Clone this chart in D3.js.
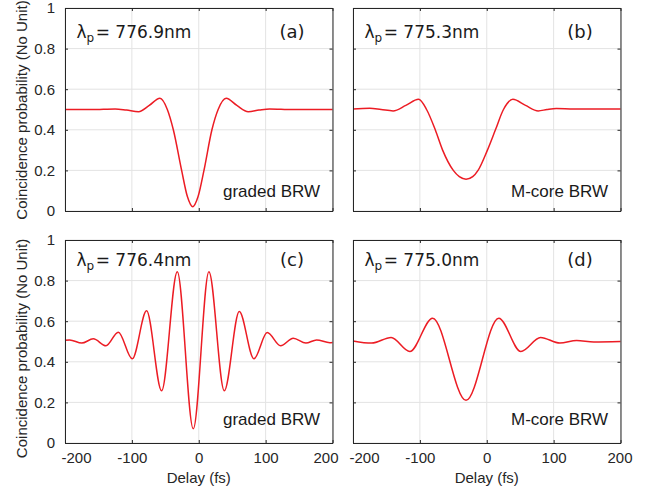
<!DOCTYPE html>
<html lang="en">
<head>
<meta charset="utf-8">
<title>Coincidence probability vs delay</title>
<script src="https://cdnjs.cloudflare.com/ajax/libs/d3/7.8.5/d3.min.js"></script>
<style>
	body { margin: 0; background: #fff; }
	svg { display: block; }
	.tick text { font-family: "Liberation Sans", Arial, sans-serif; font-size: 15px; fill: #262626; }
	.axis path, .axis line { stroke: #262626; }
	.note { font-family: "DejaVu Sans", sans-serif; fill: #1a1a1a; }
	.guide { font-family: "Liberation Sans", Arial, sans-serif; fill: #1a1a1a; }
	.title { font-family: "Liberation Sans", Arial, sans-serif; font-size: 15px; fill: #262626; }
</style>
</head>
<body>
<script>

// axis ticks
var delayTicks = [-200, -100, 0, 100, 200];
var probTicks = [0, 0.2, 0.4, 0.6, 0.8, 1];

// panel texts, order (a) (b) (c) (d)
var panelTags = ["(a)", "(b)", "(c)", "(d)"];
var pumpWavelengths = ["776.9nm", "775.3nm", "776.4nm", "775.0nm"];
var waveguides = ["graded BRW", "M-core BRW", "graded BRW", "M-core BRW"];

// curves: delay (fs) and coincidence probability
var delayA = [-200, -160, -125, -108, -90, -74, -58, -47, -38, -25.6, -17, -9, -1, 7.8, 19.7, 29, 41, 57, 74, 90, 106, 140, 200];
var probA  = [0.500, 0.500, 0.503, 0.497, 0.489, 0.520, 0.555, 0.500, 0.400, 0.200, 0.071, 0.021, 0.071, 0.200, 0.400, 0.500, 0.555, 0.520, 0.489, 0.497, 0.503, 0.500, 0.500];

var delayB = [-200, -175, -158, -140, -121, -102, -90, -77, -66, -50, -41, -31, -21, -13, 1, 13, 25, 39, 58, 77, 90, 104, 130, 200];
var probB  = [0.503, 0.506, 0.500, 0.493, 0.520, 0.550, 0.500, 0.400, 0.300, 0.200, 0.169, 0.156, 0.169, 0.200, 0.300, 0.400, 0.500, 0.550, 0.520, 0.493, 0.500, 0.505, 0.502, 0.503];

var delayC = [-200, -193, -175, -157.7, -138.7, -120.3, -99.4, -78, -55.5, -32.1, -8.2, 15.2, 38.2, 60.6, 82.5, 102.4, 122.4, 141.3, 160.2, 176.2, 196, 200];
var probC  = [0.506, 0.508, 0.492, 0.513, 0.479, 0.546, 0.415, 0.651, 0.257, 0.844, 0.070, 0.844, 0.257, 0.648, 0.415, 0.544, 0.479, 0.516, 0.492, 0.508, 0.494, 0.495];

var delayD = [-200, -172, -143, -115, -81, -31, 18, 51, 80.5, 109.4, 134.4, 160, 200];
var probD  = [0.503, 0.492, 0.520, 0.451, 0.615, 0.210, 0.615, 0.451, 0.520, 0.492, 0.505, 0.498, 0.500];

var curves = [[delayA, probA], [delayB, probB], [delayC, probC], [delayD, probD]];

// layout
var plotW = 267.5, plotH = 203;
var colX = [65, 353];
var rowY = [8, 240];
var rowShift = [0, -4];   //texts in the lower row sit a bit higher

var svg = d3.select("body")
			.append("svg")
			.attr("width", 653)
			.attr("height", 494);

var x = d3.scaleLinear().domain([-200, 200]).range([0, plotW]);
var y = d3.scaleLinear().domain([0, 1]).range([plotH, 0]);

var line = d3.line()
			.x(function(d) { return x(d[0]); })
			.y(function(d) { return y(d[1]); })
			.curve(d3.curveMonotoneX);

curves.forEach(function(c, i) {
	var col = i % 2, row = Math.floor(i / 2);
	var g = svg.append("g")
				.attr("transform", "translate(" + colX[col] + "," + rowY[row] + ")");

	// grid
	g.selectAll(".gx")
		.data(delayTicks)
		.enter()
		.append("line")
		.attr("x1", function(d) { return x(d); })
		.attr("x2", function(d) { return x(d); })
		.attr("y1", 0)
		.attr("y2", plotH)
		.attr("stroke", "#e3e3e3");
	g.selectAll(".gy")
		.data(probTicks)
		.enter()
		.append("line")
		.attr("x1", 0)
		.attr("x2", plotW)
		.attr("y1", function(d) { return y(d); })
		.attr("y2", function(d) { return y(d); })
		.attr("stroke", "#e3e3e3");

	// curve
	var pts = c[0].map(function(t, k) { return [t, c[1][k]]; });
	g.append("path")
		.datum(pts)
		.attr("d", line)
		.attr("fill", "none")
		.attr("stroke", "#ec1c24")
		.attr("stroke-width", 1.5);

	// axes, ticks pointing in
	var bottom = d3.axisBottom(x).tickValues(delayTicks).tickSizeInner(-3).tickSizeOuter(0).tickPadding(9)
					.tickFormat(row == 1 ? function(d) { return String(d); } : "");
	var bx = g.append("g").attr("class", "axis").attr("transform", "translate(0," + plotH + ")").call(bottom);
	bx.selectAll(".tick text")
		.attr("dx", function(d) {
			if (d == -200) return 11;
			if (d == 200) return col == 0 ? -7 : -1;
			return 0;
		});
	g.append("g").attr("class", "axis")
		.call(d3.axisTop(x).tickValues(delayTicks).tickSizeInner(-3).tickSizeOuter(0).tickFormat(""));
	g.append("g").attr("class", "axis")
		.call(d3.axisLeft(y).tickValues(probTicks).tickSizeInner(-3).tickSizeOuter(0).tickPadding(10)
			.tickFormat(col == 0 ? function(d) { return String(d); } : ""));
	g.append("g").attr("class", "axis").attr("transform", "translate(" + plotW + ",0)")
		.call(d3.axisRight(y).tickValues(probTicks).tickSizeInner(-3).tickSizeOuter(0).tickFormat(""));
	g.selectAll(".axis .domain").attr("stroke", "#262626");

	// wavelength label
	var lam = g.append("text")
				.attr("class", "note")
				.attr("x", 11.5)
				.attr("y", 29.5 + rowShift[row])
				.attr("font-size", 17);
	lam.append("tspan").text("λ");
	lam.append("tspan").attr("font-size", 12).attr("dy", 4).text("p");
	lam.append("tspan").attr("dy", -4).attr("dx", 1.5).text("= " + pumpWavelengths[i]);

	// panel tag
	g.append("text")
		.attr("class", "note")
		.attr("x", 227)
		.attr("y", 30 + rowShift[row])
		.attr("text-anchor", "middle")
		.attr("font-size", 18)
		.text(panelTags[i]);

	// waveguide label
	g.append("text")
		.attr("class", "guide")
		.attr("x", plotW - 12.5)
		.attr("y", plotH - 14 + rowShift[row])
		.attr("text-anchor", "end")
		.attr("font-size", 17)
		.text(waveguides[i]);
});

// axis titles
[110, 348.5].forEach(function(cy) {
	svg.append("text")
		.attr("class", "title")
		.attr("transform", "translate(26.5," + cy + ") rotate(-90)")
		.attr("text-anchor", "middle")
		.text("Coincidence probability (No Unit)");
});
colX.forEach(function(cx) {
	svg.append("text")
		.attr("class", "title")
		.attr("x", cx + plotW / 2)
		.attr("y", 483)
		.attr("text-anchor", "middle")
		.text("Delay (fs)");
});

</script>
</body>
</html>
